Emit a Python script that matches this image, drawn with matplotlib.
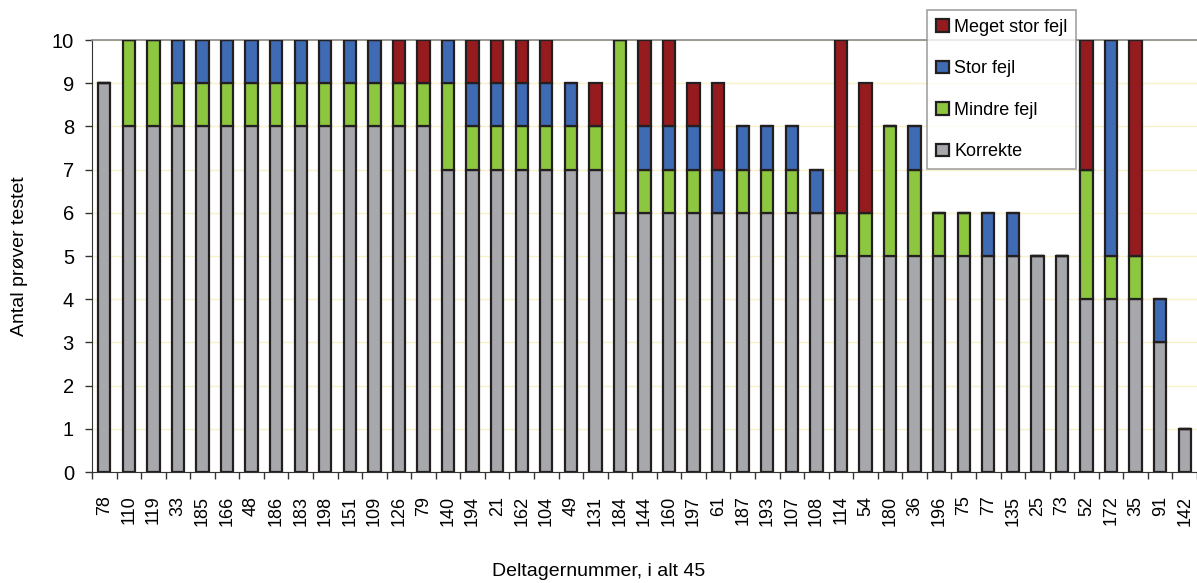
import matplotlib
matplotlib.use("Agg")
import matplotlib.pyplot as plt
import numpy as np

# participant numbers in plotted order
deltagere = ["78", "110", "119", "33", "185", "166", "48", "186", "183", "198",
             "151", "109", "126", "79", "140", "194", "21", "162", "104", "49",
             "131", "184", "144", "160", "197", "61", "187", "193", "107", "108",
             "114", "54", "180", "36", "196", "75", "77", "135", "25", "73",
             "52", "172", "35", "91", "142"]

korrekte = [9, 8, 8, 8, 8, 8, 8, 8, 8, 8,
            8, 8, 8, 8, 7, 7, 7, 7, 7, 7,
            7, 6, 6, 6, 6, 6, 6, 6, 6, 6,
            5, 5, 5, 5, 5, 5, 5, 5, 5, 5,
            4, 4, 4, 3, 1]
mindre_fejl = [0, 2, 2, 1, 1, 1, 1, 1, 1, 1,
               1, 1, 1, 1, 2, 1, 1, 1, 1, 1,
               1, 4, 1, 1, 1, 0, 1, 1, 1, 0,
               1, 1, 3, 2, 1, 1, 0, 0, 0, 0,
               3, 1, 1, 0, 0]
stor_fejl = [0, 0, 0, 1, 1, 1, 1, 1, 1, 1,
             1, 1, 0, 0, 1, 1, 1, 1, 1, 1,
             0, 0, 1, 1, 1, 1, 1, 1, 1, 1,
             0, 0, 0, 1, 0, 0, 1, 1, 0, 0,
             0, 5, 0, 1, 0]
meget_stor_fejl = [0, 0, 0, 0, 0, 0, 0, 0, 0, 0,
                   0, 0, 1, 1, 0, 1, 1, 1, 1, 0,
                   1, 0, 2, 2, 1, 2, 0, 0, 0, 0,
                   4, 3, 0, 0, 0, 0, 0, 0, 0, 0,
                   3, 0, 5, 0, 0]

series = [
    ("Korrekte", korrekte, "#A7A8AC"),
    ("Mindre fejl", mindre_fejl, "#8DC63F"),
    ("Stor fejl", stor_fejl, "#3F6AB4"),
    ("Meget stor fejl", meget_stor_fejl, "#951B1E"),
]

plt.rcParams["font.family"] = ["Liberation Sans", "DejaVu Sans"]

fig = plt.figure(figsize=(11.97, 5.83), dpi=100)
ax = fig.add_axes([92 / 1197, 1 - 472 / 583, 1105 / 1197, 432 / 583])

x = np.arange(len(deltagere))
bottom = np.zeros(len(deltagere))
handles = []
for name, vals, col in series:
    vals = np.array(vals, dtype=float)
    b = ax.bar(x, vals, width=0.5, bottom=bottom, color=col, edgecolor="#231F20",
               linewidth=1.6, label=name, zorder=3)
    handles.append(b)
    bottom += vals

ax.set_xlim(-0.5, len(deltagere) - 0.5)
ax.set_ylim(0, 10)
ax.set_yticks(range(0, 11))
ax.tick_params(axis="y", labelsize=14.5, length=5, width=1, color="#333333",
               direction="out", pad=8)
ax.yaxis.grid(True, color="#F7F2C8", linewidth=1, zorder=0)

ax.set_xticks(x)
ax.set_xticklabels(deltagere, rotation=90, fontsize=13)
ax.tick_params(axis="x", which="major", length=0, pad=17)
ax.set_xticks(np.arange(-0.5, len(deltagere)), minor=True)
ax.tick_params(axis="x", which="minor", length=5, width=1, color="#333333", direction="out")

ax.spines["right"].set_visible(False)
ax.spines["top"].set_color("#8A8A8A")
ax.spines["top"].set_linewidth(1.2)
ax.spines["left"].set_color("#333333")
ax.spines["bottom"].set_color("#333333")

fig.text(20 / 1197, 1 - 256 / 583, "Antal prøver testet", rotation=90,
         ha="center", va="center", fontsize=14)
fig.text(0.5, 1 - 572 / 583, "Deltagernummer, i alt 45", ha="center", va="center",
         fontsize=14)

leg = ax.legend(handles[::-1], [s[0] for s in series][::-1],
                loc="upper left", bbox_to_anchor=(927 / 1197, 1 - 10 / 583),
                bbox_transform=fig.transFigure, borderaxespad=0, fontsize=13,
                frameon=True, fancybox=False, edgecolor="#8A8A8A",
                handlelength=0.7, handleheight=0.7, handletextpad=0.3,
                labelspacing=1.35, borderpad=0.5)
leg.get_frame().set_linewidth(1.2)
leg.set_zorder(10)

fig.savefig("out.png", dpi=100)
